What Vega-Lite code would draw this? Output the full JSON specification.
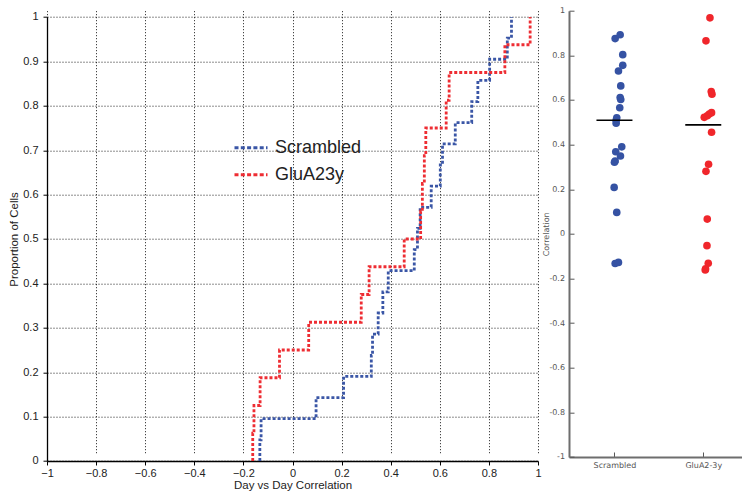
{
  "$schema": "https://vega.github.io/schema/vega-lite/v6.json",
  "padding": {"left": 8, "top": 6.7, "right": 0, "bottom": 0},
  "spacing": 0,
  "config": {"view": {"stroke": null}, "font": "Liberation Sans"},
  "resolve": {"scale": {"color": "independent"}},
  "datasets": {
    "ecdf": [
      {"group": "Scrambled", "rank": 0, "correlation": -0.133, "proportion": 0},
      {"group": "Scrambled", "rank": 1, "correlation": -0.133, "proportion": 0.0476},
      {"group": "Scrambled", "rank": 2, "correlation": -0.128, "proportion": 0.0952},
      {"group": "Scrambled", "rank": 3, "correlation": 0.096, "proportion": 0.1429},
      {"group": "Scrambled", "rank": 4, "correlation": 0.208, "proportion": 0.1905},
      {"group": "Scrambled", "rank": 5, "correlation": 0.321, "proportion": 0.2381},
      {"group": "Scrambled", "rank": 6, "correlation": 0.326, "proportion": 0.2857},
      {"group": "Scrambled", "rank": 7, "correlation": 0.349, "proportion": 0.3333},
      {"group": "Scrambled", "rank": 8, "correlation": 0.368, "proportion": 0.381},
      {"group": "Scrambled", "rank": 9, "correlation": 0.39, "proportion": 0.4286},
      {"group": "Scrambled", "rank": 10, "correlation": 0.496, "proportion": 0.4762},
      {"group": "Scrambled", "rank": 11, "correlation": 0.509, "proportion": 0.5238},
      {"group": "Scrambled", "rank": 12, "correlation": 0.52, "proportion": 0.5714},
      {"group": "Scrambled", "rank": 13, "correlation": 0.565, "proportion": 0.619},
      {"group": "Scrambled", "rank": 14, "correlation": 0.602, "proportion": 0.6667},
      {"group": "Scrambled", "rank": 15, "correlation": 0.611, "proportion": 0.7143},
      {"group": "Scrambled", "rank": 16, "correlation": 0.663, "proportion": 0.7619},
      {"group": "Scrambled", "rank": 17, "correlation": 0.73, "proportion": 0.8095},
      {"group": "Scrambled", "rank": 18, "correlation": 0.755, "proportion": 0.8571},
      {"group": "Scrambled", "rank": 19, "correlation": 0.803, "proportion": 0.9048},
      {"group": "Scrambled", "rank": 20, "correlation": 0.875, "proportion": 0.9524},
      {"group": "Scrambled", "rank": 21, "correlation": 0.892, "proportion": 1},
      {"group": "GluA23y", "rank": 0, "correlation": -0.162, "proportion": 0},
      {"group": "GluA23y", "rank": 1, "correlation": -0.162, "proportion": 0.0625},
      {"group": "GluA23y", "rank": 2, "correlation": -0.157, "proportion": 0.125},
      {"group": "GluA23y", "rank": 3, "correlation": -0.132, "proportion": 0.1875},
      {"group": "GluA23y", "rank": 4, "correlation": -0.053, "proportion": 0.25},
      {"group": "GluA23y", "rank": 5, "correlation": 0.066, "proportion": 0.3125},
      {"group": "GluA23y", "rank": 6, "correlation": 0.28, "proportion": 0.375},
      {"group": "GluA23y", "rank": 7, "correlation": 0.312, "proportion": 0.4375},
      {"group": "GluA23y", "rank": 8, "correlation": 0.455, "proportion": 0.5},
      {"group": "GluA23y", "rank": 9, "correlation": 0.522, "proportion": 0.5625},
      {"group": "GluA23y", "rank": 10, "correlation": 0.529, "proportion": 0.625},
      {"group": "GluA23y", "rank": 11, "correlation": 0.537, "proportion": 0.6875},
      {"group": "GluA23y", "rank": 12, "correlation": 0.543, "proportion": 0.75},
      {"group": "GluA23y", "rank": 13, "correlation": 0.626, "proportion": 0.8125},
      {"group": "GluA23y", "rank": 14, "correlation": 0.638, "proportion": 0.875},
      {"group": "GluA23y", "rank": 15, "correlation": 0.865, "proportion": 0.9375},
      {"group": "GluA23y", "rank": 16, "correlation": 0.968, "proportion": 1}
    ],
    "cells": [
      {"group": "Scrambled", "correlation": -0.133, "jitter": 0.7},
      {"group": "Scrambled", "correlation": -0.128, "jitter": 4},
      {"group": "Scrambled", "correlation": 0.096, "jitter": 2.3},
      {"group": "Scrambled", "correlation": 0.208, "jitter": -0.3},
      {"group": "Scrambled", "correlation": 0.321, "jitter": 0},
      {"group": "Scrambled", "correlation": 0.326, "jitter": 0.7},
      {"group": "Scrambled", "correlation": 0.349, "jitter": 6},
      {"group": "Scrambled", "correlation": 0.368, "jitter": 1.3},
      {"group": "Scrambled", "correlation": 0.39, "jitter": 7.3},
      {"group": "Scrambled", "correlation": 0.496, "jitter": 1.7},
      {"group": "Scrambled", "correlation": 0.509, "jitter": 1.7},
      {"group": "Scrambled", "correlation": 0.52, "jitter": 2.3},
      {"group": "Scrambled", "correlation": 0.565, "jitter": 5.3},
      {"group": "Scrambled", "correlation": 0.602, "jitter": 6.3},
      {"group": "Scrambled", "correlation": 0.611, "jitter": 5.7},
      {"group": "Scrambled", "correlation": 0.663, "jitter": 6.3},
      {"group": "Scrambled", "correlation": 0.73, "jitter": 4},
      {"group": "Scrambled", "correlation": 0.755, "jitter": 8.3},
      {"group": "Scrambled", "correlation": 0.803, "jitter": 8.3},
      {"group": "Scrambled", "correlation": 0.875, "jitter": 0.7},
      {"group": "Scrambled", "correlation": 0.892, "jitter": 5.7},
      {"group": "GluA2-3y", "correlation": -0.162, "jitter": 2},
      {"group": "GluA2-3y", "correlation": -0.157, "jitter": 2.3},
      {"group": "GluA2-3y", "correlation": -0.132, "jitter": 5},
      {"group": "GluA2-3y", "correlation": -0.053, "jitter": 3.7},
      {"group": "GluA2-3y", "correlation": 0.066, "jitter": 4},
      {"group": "GluA2-3y", "correlation": 0.28, "jitter": 2.7},
      {"group": "GluA2-3y", "correlation": 0.312, "jitter": 5.3},
      {"group": "GluA2-3y", "correlation": 0.455, "jitter": 8.3},
      {"group": "GluA2-3y", "correlation": 0.522, "jitter": 1},
      {"group": "GluA2-3y", "correlation": 0.529, "jitter": 4},
      {"group": "GluA2-3y", "correlation": 0.537, "jitter": 6},
      {"group": "GluA2-3y", "correlation": 0.543, "jitter": 8.3},
      {"group": "GluA2-3y", "correlation": 0.626, "jitter": 8.7},
      {"group": "GluA2-3y", "correlation": 0.638, "jitter": 8},
      {"group": "GluA2-3y", "correlation": 0.865, "jitter": 2.7},
      {"group": "GluA2-3y", "correlation": 0.968, "jitter": 6.7}
    ]
  },
  "hconcat": [
    {
      "width": 491,
      "height": 450.3,
      "data": {"name": "ecdf"},
      "mark": {"type": "line", "interpolate": "step-after", "strokeDash": [3, 2], "strokeWidth": 2.8},
      "encoding": {
        "x": {
          "field": "correlation", "type": "quantitative",
          "scale": {"domain": [-1, 1], "nice": false},
          "axis": {
            "title": "Day vs Day Correlation",
            "values": [-1, -0.8, -0.6, -0.4, -0.2, 0, 0.2, 0.4, 0.6, 0.8, 1],
            "format": "~g",
            "grid": true, "gridColor": "#000", "gridDash": [1, 2], "gridWidth": 1, "gridOpacity": 0.9,
            "domainColor": "#000", "domainWidth": 1.3,
            "tickColor": "#000", "tickSize": 4, "tickWidth": 1,
            "labelFont": "Liberation Sans", "labelFontSize": 11, "labelColor": "#222", "labelPadding": 3, "labelFlush": false,
            "titleFont": "Liberation Sans", "titleFontSize": 11.5, "titleFontWeight": "normal", "titleColor": "#222", "titlePadding": 1
          }
        },
        "y": {
          "field": "proportion", "type": "quantitative",
          "scale": {"domain": [0, 1], "nice": false, "range": [450.3, 6.3]},
          "axis": {
            "title": "Proportion of Cells",
            "values": [0, 0.1, 0.2, 0.3, 0.4, 0.5, 0.6, 0.7, 0.8, 0.9, 1],
            "format": "~g",
            "grid": true, "gridColor": "#000", "gridDash": [1, 2], "gridWidth": 1, "gridOpacity": 0.9,
            "domainColor": "#000", "domainWidth": 1.3,
            "tickColor": "#000", "tickSize": 4, "tickWidth": 1,
            "labelFont": "Liberation Sans", "labelFontSize": 11, "labelColor": "#222", "labelPadding": 5, "labelFlush": false,
            "titleFont": "Liberation Sans", "titleFontSize": 11.5, "titleFontWeight": "normal", "titleColor": "#222", "titlePadding": 3
          }
        },
        "color": {
          "field": "group", "type": "nominal",
          "scale": {"domain": ["Scrambled", "GluA23y"], "range": ["#3a56a6", "#ee2d33"]},
          "legend": {
            "title": null, "orient": "none", "legendX": 186, "legendY": 119, "padding": 0,
            "symbolType": "stroke", "symbolSize": 1089, "symbolStrokeWidth": 3, "symbolDash": [4, 2.3],
            "labelFont": "Liberation Sans", "labelFontSize": 18, "labelColor": "#222", "labelOffset": 6,
            "rowPadding": -10
          }
        },
        "order": {"field": "rank", "type": "quantitative"}
      }
    },
    {
      "width": 173,
      "height": 446.3,
      "data": {"name": "cells"},
      "layer": [
        {
          "mark": {"type": "circle", "size": 58, "opacity": 1},
          "encoding": {
            "x": {"field": "group", "type": "nominal"},
            "xOffset": {"field": "jitter", "type": "quantitative", "scale": {"domain": [-10, 10], "range": [-10, 10]}},
            "y": {"field": "correlation", "type": "quantitative"},
            "color": {
              "field": "group", "type": "nominal",
              "scale": {"domain": ["Scrambled", "GluA2-3y"], "range": ["#3552a3", "#f0262b"]},
              "legend": null
            }
          }
        },
        {
          "mark": {"type": "tick", "color": "#000", "thickness": 1.6, "size": 36},
          "encoding": {
            "x": {"field": "group", "type": "nominal"},
            "y": {"field": "correlation", "type": "quantitative", "aggregate": "median"}
          }
        }
      ],
      "encoding": {
        "x": {
          "field": "group", "type": "nominal", "sort": ["Scrambled", "GluA2-3y"],
          "scale": {"type": "point", "padding": 0.474, "align": 0.54},
          "axis": {
            "title": null, "labelAngle": 0,
            "domainColor": "#6e6e6e", "domainWidth": 2,
            "tickColor": "#555", "tickSize": -5, "tickWidth": 1,
            "labelFont": "DejaVu Sans", "labelFontSize": 8, "labelColor": "#555", "labelPadding": 10
          }
        },
        "y": {
          "field": "correlation", "type": "quantitative",
          "scale": {"domain": [-1, 1], "nice": false},
          "axis": {
            "title": "Correlation",
            "values": [-1, -0.8, -0.6, -0.4, -0.2, 0, 0.2, 0.4, 0.6, 0.8, 1],
            "format": "~g",
            "labelExpr": "replace(datum.label, '\u2212', '-')",
            "grid": false,
            "domainColor": "#6e6e6e", "domainWidth": 2,
            "tickColor": "#555", "tickSize": -5, "tickWidth": 1,
            "labelFont": "DejaVu Sans", "labelFontSize": 8, "labelColor": "#555", "labelPadding": 9.5,
            "titleFont": "DejaVu Sans", "titleFontSize": 8, "titleFontWeight": "normal", "titleColor": "#555", "titlePadding": -2
          }
        }
      }
    }
  ]
}
